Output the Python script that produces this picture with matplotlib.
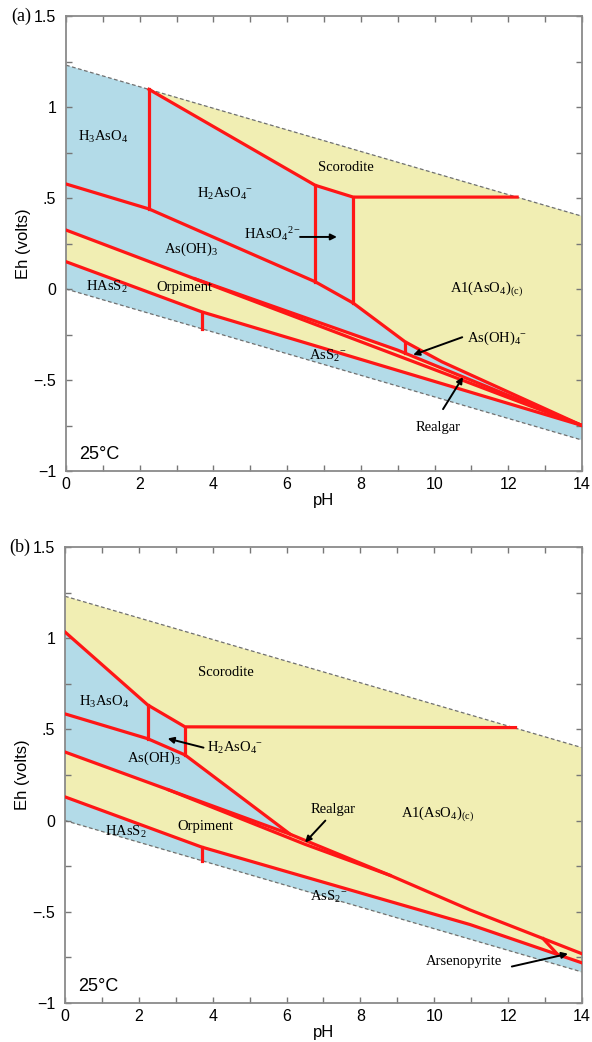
import numpy as np
import matplotlib
matplotlib.use('Agg')
import matplotlib.pyplot as plt

plt.rcParams['font.family'] = ['Liberation Sans', 'DejaVu Sans']
plt.rcParams['mathtext.fontset'] = 'custom'
plt.rcParams['mathtext.rm'] = 'Liberation Serif'
plt.rcParams['mathtext.it'] = 'Liberation Serif:italic'

AZUL = '#b3dbe8'
AMARELO = '#f1eeb3'
VERMELHO = '#ff1616'
SERIF = ['Liberation Serif', 'DejaVu Serif']

# limites de estabilidade da agua (pH, Eh)
AGUA_PH = [0, 14]
AGUA_SUP = [1.23, 0.40]
AGUA_INF = [0.0, -0.83]

# ---- painel (a): fronteiras (pH, Eh) ----
A_H3_H2 = [(2.25, 1.097), (2.25, 0.44)]
A_ESCORODITA = [(2.25, 1.097), (6.76, 0.57), (7.79, 0.505), (12.24, 0.505)]
A_H2_HASO4 = [(6.76, 0.57), (6.76, 0.04)]
A_HASO4_AL = [(7.79, 0.505), (7.79, -0.077)]
A_ASOH3_SUP = [(0, 0.577), (2.25, 0.44), (6.76, 0.04), (7.79, -0.077),
               (9.2, -0.29), (10.2, -0.40), (14, -0.75)]
A_ASOH4 = [(9.2, -0.29), (9.2, -0.35)]
A_ORP_SUP = [(0, 0.324), (14, -0.75)]
A_REALGAR = [(3.5, 0.056), (9.0, -0.336), (14, -0.75)]
A_ORP_INF = [(0, 0.15), (3.69, -0.126), (14, -0.75)]
A_HASS2_ASS2 = [(3.69, -0.126), (3.69, -0.218)]

# ---- painel (b): fronteiras (pH, Eh) ----
B_ESCORODITA = [(0, 1.034), (2.24, 0.634), (3.25, 0.514), (12.2, 0.51)]
B_H3_H2 = [(2.24, 0.634), (2.24, 0.449)]
B_H2_AL = [(3.25, 0.514), (3.25, 0.36)]
B_ASOH3_SUP = [(0, 0.585), (2.24, 0.449), (3.25, 0.36), (6.1, -0.075)]
B_ORP_SUP = [(0, 0.376), (6.1, -0.075), (8.8, -0.30), (10.97, -0.49), (14, -0.73)]
B_REALGAR = [(2.8, 0.169), (6.5, -0.13), (8.8, -0.30)]
B_ORP_INF = [(0, 0.13), (3.7, -0.145), (10.97, -0.57), (14, -0.78)]
B_HASS2_ASS2 = [(3.7, -0.145), (3.7, -0.219)]
B_ARSENOPIRITA = [(12.95, -0.648), (13.35, -0.736)]

# rotulos (texto, pH, Eh)
A_ROTULOS = [
    ('H$_3$AsO$_4$', 1.0, 0.835),
    ('H$_2$AsO$_4{}^{-}$', 4.3, 0.52),
    ('Scorodite', 7.6, 0.67),
    ('HAsO$_4{}^{2-}$', 5.6, 0.30),
    ('As(OH)$_3$', 3.4, 0.22),
    ('HAsS$_2$', 1.1, 0.01),
    ('Orpiment', 3.2, 0.01),
    ('AsS$_2{}^{-}$', 7.1, -0.37),
    ('A1(AsO$_4$)$_{\\mathrm{(c)}}$', 11.4, 0.0),
    ('As(OH)$_4{}^{-}$', 11.7, -0.27),
    ('Realgar', 10.1, -0.76),
]
A_SETAS = [((6.35, 0.286), (7.35, 0.286)),
           ((10.75, -0.265), (9.42, -0.362)),
           ((10.23, -0.66), (10.77, -0.484))]

B_ROTULOS = [
    ('Scorodite', 4.35, 0.81),
    ('H$_3$AsO$_4$', 1.06, 0.65),
    ('As(OH)$_3$', 2.4, 0.34),
    ('H$_2$AsO$_4{}^{-}$', 4.6, 0.40),
    ('Realgar', 7.25, 0.06),
    ('A1(AsO$_4$)$_{\\mathrm{(c)}}$', 10.1, 0.04),
    ('HAsS$_2$', 1.65, -0.06),
    ('Orpiment', 3.8, -0.035),
    ('AsS$_2{}^{-}$', 7.15, -0.42),
    ('Arsenopyrite', 10.8, -0.77),
]
B_SETAS = [((3.75, 0.40), (2.78, 0.45)),
           ((7.05, 0.0), (6.5, -0.12)),
           ((12.1, -0.80), (13.62, -0.73))]


def poligono_agua():
    return [(AGUA_PH[0], AGUA_SUP[0]), (AGUA_PH[1], AGUA_SUP[1]),
            (AGUA_PH[1], AGUA_INF[1]), (AGUA_PH[0], AGUA_INF[0])]


def preencher(ax, pontos, cor):
    xs, ys = zip(*pontos)
    ax.fill(xs, ys, color=cor, lw=0, zorder=1)


def linha(ax, pontos):
    xs, ys = zip(*pontos)
    ax.plot(xs, ys, color=VERMELHO, lw=2.3, zorder=3, solid_joinstyle='round')


def formatar_eixo(ax, letra):
    ax.set_xlim(0, 14)
    ax.set_ylim(-1, 1.5)
    ax.set_xticks(range(0, 15, 2))
    ax.set_xticks(range(1, 14, 2), minor=True)
    ax.set_yticks([-1, -0.5, 0, 0.5, 1, 1.5])
    ax.set_yticklabels(['\u22121', '\u2212.5', '0', '.5', '1', '1.5'])
    ax.set_yticks(np.arange(-0.75, 1.5, 0.5), minor=True)
    ax.tick_params(which='both', direction='in', top=True, right=True,
                   length=4, width=1, color='#777777', labelsize=11.5)
    ax.tick_params(axis='x', pad=4)
    ax.tick_params(axis='y', pad=7)
    for sp in ax.spines.values():
        sp.set_color('#8a8a8a')
        sp.set_linewidth(1.3)
    ax.set_xlabel('pH', fontsize=12, labelpad=1)
    ax.set_ylabel('Eh (volts)', fontsize=12, labelpad=2)
    ax.plot(AGUA_PH, AGUA_SUP, ls=(0, (3, 2)), color='#707070', lw=0.9, zorder=2)
    ax.plot(AGUA_PH, AGUA_INF, ls=(0, (3, 2)), color='#707070', lw=0.9, zorder=2)
    ax.text(0.35, -0.91, '25\u00b0C', fontsize=13, va='center', ha='left', zorder=4)
    ax.text(-0.068, 1.0, letra, fontsize=13, family=SERIF, ha='right', va='center',
            transform=ax.transAxes, clip_on=False)


def rotular(ax, rotulos, setas):
    for texto, x, y in rotulos:
        ax.text(x, y, texto, fontsize=10.5, family=SERIF, ha='center', va='center', zorder=4)
    for ini, fim in setas:
        ax.annotate('', xy=fim, xytext=ini, zorder=4,
                    arrowprops=dict(arrowstyle='-|>', color='black', lw=1.4,
                                    mutation_scale=9, shrinkA=0, shrinkB=0))


def painel_a(ax):
    preencher(ax, poligono_agua(), AZUL)
    preencher(ax, A_ESCORODITA[:3] + A_HASO4_AL[1:] + A_ASOH3_SUP[4:] +
              [(AGUA_PH[1], AGUA_SUP[1])], AMARELO)
    preencher(ax, A_ORP_SUP + A_ORP_INF[::-1], AMARELO)
    preencher(ax, A_REALGAR, AMARELO)
    for l in [A_H3_H2, A_ESCORODITA, A_H2_HASO4, A_HASO4_AL, A_ASOH3_SUP,
              A_ASOH4, A_ORP_SUP, A_REALGAR, A_ORP_INF, A_HASS2_ASS2]:
        linha(ax, l)
    formatar_eixo(ax, '(a)')
    rotular(ax, A_ROTULOS, A_SETAS)


def painel_b(ax):
    preencher(ax, poligono_agua(), AMARELO)
    preencher(ax, B_ESCORODITA[:3] + B_H2_AL[1:] + B_ASOH3_SUP[3:] +
              [B_ORP_SUP[0]], AZUL)
    preencher(ax, B_ORP_INF + [(AGUA_PH[1], AGUA_INF[1]), (AGUA_PH[0], AGUA_INF[0])], AZUL)
    for l in [B_ESCORODITA, B_H3_H2, B_H2_AL, B_ASOH3_SUP, B_ORP_SUP,
              B_REALGAR, B_ORP_INF, B_HASS2_ASS2, B_ARSENOPIRITA]:
        linha(ax, l)
    formatar_eixo(ax, '(b)')
    rotular(ax, B_ROTULOS, B_SETAS)


def main():
    fig = plt.figure(figsize=(5.92, 10.42), dpi=100)
    ax_a = fig.add_axes([66 / 592, 1 - 471 / 1042, 516 / 592, 455 / 1042])
    ax_b = fig.add_axes([65 / 592, 1 - 1003 / 1042, 517 / 592, 456 / 1042])
    painel_a(ax_a)
    painel_b(ax_b)
    fig.savefig('out.png', dpi=100)


if __name__ == '__main__':
    main()
